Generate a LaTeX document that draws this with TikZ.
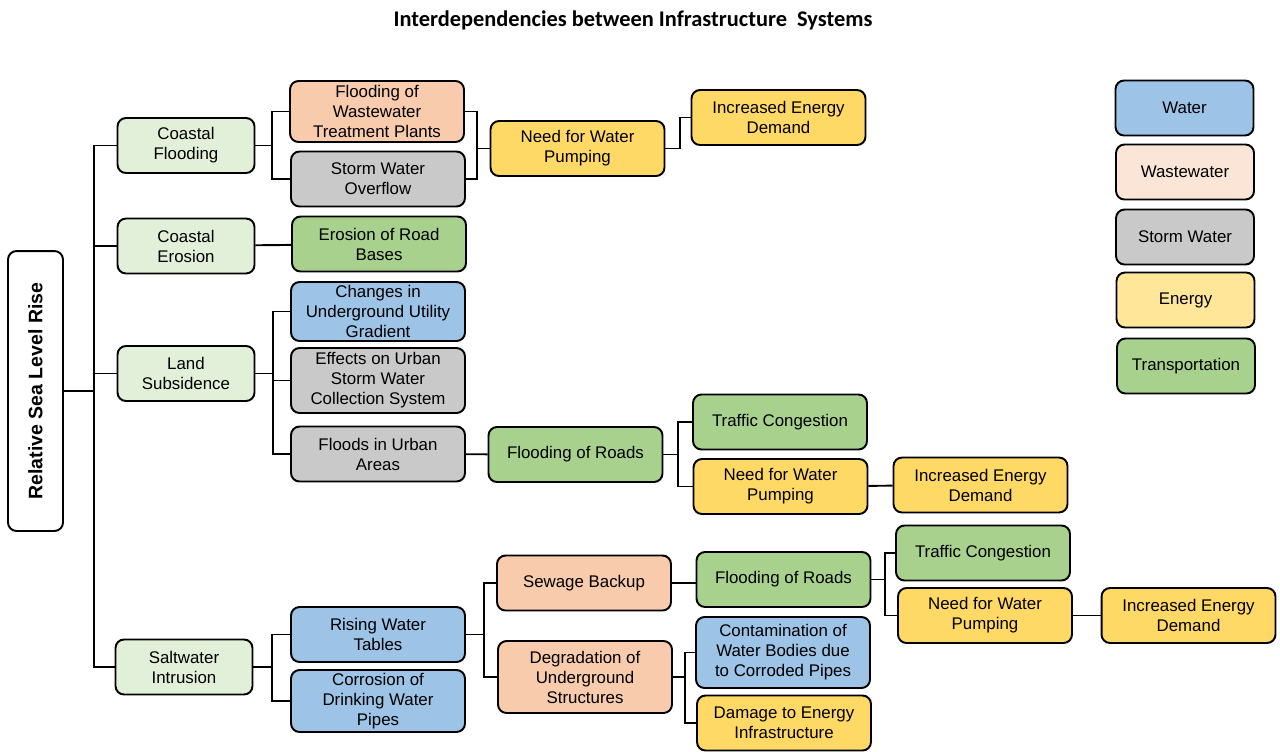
\documentclass[tikz,border=0pt]{standalone}
\usepackage{fontspec}
\setmainfont{Liberation Sans}
\newfontfamily\titlefont{Carlito}
\usepackage{xcolor}
\usepackage{tikz}

% infrastructure colours
\definecolor{waterblue}{HTML}{9DC3E6}
\definecolor{wasteorange}{HTML}{F8CBAD}
\definecolor{wastelight}{HTML}{FBE5D6}
\definecolor{stormgray}{HTML}{C9C9C9}
\definecolor{energyyellow}{HTML}{FFD966}
\definecolor{energylight}{HTML}{FFE699}
\definecolor{roadgreen}{HTML}{A9D18E}
\definecolor{hazardgreen}{HTML}{E2F0D9}

\tikzset{
  box/.style={draw,line width=1.1pt,rounded corners=0.17cm,align=center,
    inner sep=1pt,minimum height=1.1cm},
  hazard/.style={box,fill=hazardgreen,minimum width=2.74cm},
  effect/.style={box,minimum width=3.48cm},
  key/.style={box,minimum width=2.76cm},
  link/.style={line width=1.1pt}
}

\begin{document}
\begin{tikzpicture}[x=0.02cm,y=-0.02cm,font=\fontsize{9.6}{11.4}\selectfont]
  % canvas, units are pixels with y pointing down
  \fill[white] (0,0) rectangle (1280,751);
  \useasboundingbox (0,0) rectangle (1280,751);
  \node[font=\titlefont\bfseries\fontsize{12.75}{15}\selectfont] (title) at (633,20.5)
    {Interdependencies between Infrastructure\ \ Systems};

  % root (rotated, so .south is its right side)
  \node[box,rotate=90,minimum width=5.6cm,font=\bfseries\fontsize{11.1}{13}\selectfont]
    (slr) at (35.5,391) {Relative Sea Level Rise};

  % hazards
  \node[hazard] (cflood)    at (186,145.5) {Coastal\\Flooding};
  \node[hazard] (cerosion)  at (186,246)   {Coastal\\Erosion};
  \node[hazard] (subside)   at (186,373.5) {Land\\Subsidence};
  \node[hazard] (saltwater) at (184,667)   {Saltwater\\Intrusion};

  % first order effects
  \node[effect,fill=wasteorange,minimum height=1.22cm] (fwtp) at (377,111.5)
    {Flooding of\\Wastewater\\Treatment Plants};
  \node[effect,fill=stormgray] (swo) at (378,179) {Storm Water\\Overflow};
  \node[effect,fill=roadgreen] (roadbase) at (379,244) {Erosion of Road\\Bases};
  \node[effect,fill=waterblue,minimum height=1.18cm] (gradient) at (378,311.5)
    {Changes in\\Underground Utility\\Gradient};
  \node[effect,fill=stormgray,minimum height=1.3cm] (collect) at (378,380.5)
    {Effects on Urban\\Storm Water\\Collection System};
  \node[effect,fill=stormgray] (urbanflood) at (378,454) {Floods in Urban\\Areas};
  \node[effect,fill=waterblue] (watertable) at (378,634.5) {Rising Water\\Tables};
  \node[effect,fill=waterblue,minimum height=1.24cm] (pipes) at (378,701)
    {Corrosion of\\Drinking Water\\Pipes};

  % second order effects
  \node[effect,fill=energyyellow] (pump1) at (577.5,148.5) {Need for Water\\Pumping};
  \node[effect,fill=roadgreen] (roads1) at (575.5,454.5) {Flooding of Roads};
  \node[effect,fill=wasteorange] (sewage) at (584,583) {Sewage Backup};
  \node[effect,fill=wasteorange,minimum height=1.44cm] (decay) at (585,677)
    {Degradation of\\Underground\\Structures};

  % third order effects
  \node[effect,fill=energyyellow] (demand1) at (778.5,117.5) {Increased Energy\\Demand};
  \node[effect,fill=roadgreen] (traffic1) at (780,422) {Traffic Congestion};
  \node[effect,fill=energyyellow] (pump2) at (780.5,486.5) {Need for Water\\Pumping};
  \node[effect,fill=roadgreen] (roads2) at (783.5,579.5) {Flooding of Roads};
  \node[effect,fill=waterblue,minimum height=1.42cm] (contam) at (783,652.5)
    {Contamination of\\Water Bodies due\\to Corroded Pipes};
  \node[effect,fill=energyyellow] (damage) at (784,723) {Damage to Energy\\Infrastructure};

  % further down the chain
  \node[effect,fill=energyyellow] (demand2) at (980.5,485) {Increased Energy\\Demand};
  \node[effect,fill=roadgreen] (traffic2) at (983,553) {Traffic Congestion};
  \node[effect,fill=energyyellow] (pump3) at (985,615.5) {Need for Water\\Pumping};
  \node[effect,fill=energyyellow] (demand3) at (1188.5,615.5) {Increased Energy\\Demand};

  % legend
  \node[key,fill=waterblue]   (kwater)   at (1184.5,108) {Water};
  \node[key,fill=wastelight]  (kwaste)   at (1185,172)   {Wastewater};
  \node[key,fill=stormgray]   (kstorm)   at (1185,237)   {Storm Water};
  \node[key,fill=energylight] (kenergy)  at (1185.5,300) {Energy};
  \node[key,fill=roadgreen]   (ktransp)  at (1186,366)   {Transportation};

  % trunk
  \draw[link] (slr.south) -- ++(30,0) coordinate (trunk);
  \foreach \h in {cflood,cerosion,subside,saltwater}
    \draw[link] (trunk) |- (\h.west);

  % coastal flooding branch
  \draw[link] (cflood.east) -- ++(17,0) coordinate (f1);
  \foreach \n in {fwtp,swo} \draw[link] (f1) |- (\n.west);
  \draw[link] (pump1.west) -- ++(-13,0) coordinate (j1);
  \foreach \n in {fwtp,swo} \draw[link] (j1) |- (\n.east);
  \draw[link] (pump1.east) -- ++(15,0) |- (demand1.west);

  % coastal erosion branch
  \draw[link] (cerosion) -- (roadbase);

  % subsidence branch
  \draw[link] (subside.east) -- ++(18,0) coordinate (f2);
  \foreach \n in {gradient,collect,urbanflood} \draw[link] (f2) |- (\n.west);
  \draw[link] (urbanflood) -- (roads1);
  \draw[link] (roads1.east) -- ++(15,0) coordinate (f3);
  \foreach \n in {traffic1,pump2} \draw[link] (f3) |- (\n.west);
  \draw[link] (pump2) -- (demand2);

  % saltwater branch
  \draw[link] (saltwater.east) -- ++(19,0) coordinate (f4);
  \foreach \n in {watertable,pipes} \draw[link] (f4) |- (\n.west);
  \draw[link] (watertable.east) -- ++(18,0) coordinate (f5);
  \foreach \n in {sewage,decay} \draw[link] (f5) |- (\n.west);
  \draw[link] (sewage.east) -- (sewage.east -| roads2.west);
  \draw[link] (roads2.east) -- ++(14,0) coordinate (f6);
  \foreach \n in {traffic2,pump3} \draw[link] (f6) |- (\n.west);
  \draw[link] (pump3) -- (demand3);
  \draw[link] (decay.east) -- ++(12,0) coordinate (f7);
  \foreach \n in {contam,damage} \draw[link] (f7) |- (\n.west);
\end{tikzpicture}
\end{document}
